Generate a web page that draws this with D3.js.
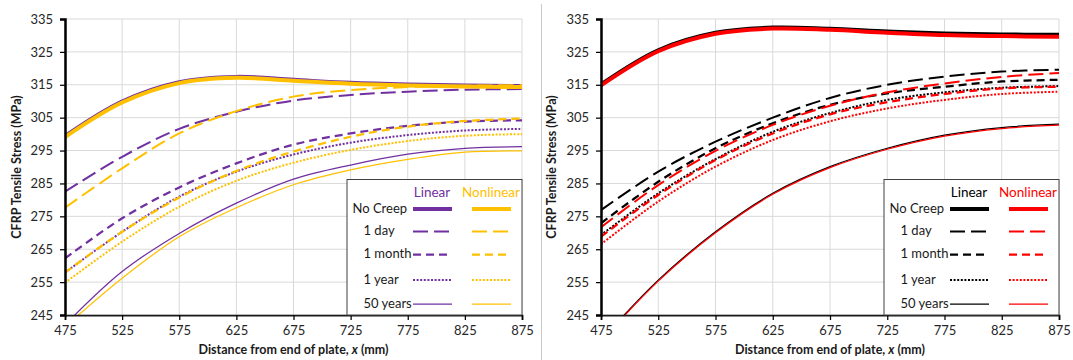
<!DOCTYPE html>
<html>
<head>
<meta charset="utf-8">
<script src="https://cdn.jsdelivr.net/npm/d3@7"></script>
<style>
  body { margin: 0; background: #fff; }
  svg { display: block; font-family: Lato, "Noto Sans", sans-serif; }
</style>
</head>
<body>
<svg id="chart" width="1073" height="360"></svg>
<script>
// Distance from end of plate (mm) at which stresses are sampled
const distance = [475, 525, 575, 625, 675, 725, 775, 825, 875];
const xTicks = [475, 525, 575, 625, 675, 725, 775, 825, 875];
const yTicks = [245, 255, 265, 275, 285, 295, 305, 315, 325, 335];
const creepLabels = ["No Creep", "1 day", "1 month", "1 year", "50 years"];

// Left panel: CFRP tensile stress (MPa)
const leftLinNoCreep  = [299.4, 309.9, 315.8, 317.4, 316.5, 315.6, 315.1, 314.8, 314.6];
const leftNonNoCreep  = [299.1, 309.6, 315.5, 317.1, 316.2, 315.3, 314.8, 314.5, 314.3];
const leftLin1Day     = [282.5, 293.1, 301.6, 306.8, 310.2, 311.9, 312.9, 313.5, 313.7];
const leftNon1Day     = [277.6, 289.6, 300.2, 307.0, 311.4, 313.4, 314.3, 314.7, 314.9];
const leftLin1Month   = [262.2, 274.4, 283.8, 291.1, 296.8, 300.2, 302.5, 303.8, 304.2];
const leftNon1Month   = [257.9, 270.3, 280.7, 288.8, 294.7, 299.2, 302.3, 304.0, 304.7];
const leftLin1Year    = [257.9, 270.3, 281.0, 288.6, 293.8, 297.4, 299.7, 301.1, 301.6];
const leftNon1Year    = [254.8, 267.3, 277.9, 285.8, 291.3, 295.2, 297.9, 299.5, 300.0];
const leftLin50Years  = [242.0, 258.2, 269.8, 279.0, 286.3, 290.6, 293.9, 295.7, 296.2];
const leftNon50Years  = [241.4, 256.2, 268.8, 277.6, 284.6, 289.1, 292.3, 294.5, 294.9];

// Right panel: CFRP tensile stress (MPa)
const rightLinNoCreep = [315.1, 325.5, 330.8, 332.4, 332.0, 331.2, 330.6, 330.3, 330.2];
const rightNonNoCreep = [314.8, 325.2, 330.5, 332.1, 331.7, 330.8, 330.1, 329.8, 329.6];
const rightLin1Day    = [276.9, 288.6, 297.7, 305.0, 311.0, 315.0, 317.5, 319.0, 319.6];
const rightNon1Day    = [271.7, 284.5, 294.9, 302.8, 308.6, 312.7, 315.4, 317.4, 318.6];
const rightLin1Month  = [272.9, 285.5, 295.7, 303.3, 308.9, 312.4, 314.4, 316.0, 316.5];
const rightNon1Month  = [268.8, 281.5, 292.1, 300.2, 306.0, 309.7, 312.2, 313.9, 314.4];
const rightLin1Year   = [269.3, 282.0, 292.4, 300.7, 306.4, 310.4, 312.7, 314.1, 314.6];
const rightNon1Year   = [266.5, 279.5, 290.1, 298.2, 303.9, 307.8, 310.4, 312.2, 312.9];
const rightLin50Years = [237.3, 255.6, 270.3, 282.0, 290.1, 295.7, 299.7, 302.0, 303.0];
const rightNon50Years = [237.0, 255.3, 270.0, 281.7, 289.8, 295.4, 299.4, 301.7, 302.7];

// Line style for each creep duration
const widths = [4, 2, 2.25, 2, 1.25];
const dashes = [null, "15,6", "8,5", "2,1.6", null];

const panels = [
  {
    id: "left", x0: 65, x1: 522, titleX: 18,
    linColor: "#7030A0", nonColor: "#FFC000",
    lin: [leftLinNoCreep, leftLin1Day, leftLin1Month, leftLin1Year, leftLin50Years],
    non: [leftNonNoCreep, leftNon1Day, leftNon1Month, leftNon1Year, leftNon50Years]
  },
  {
    id: "right", x0: 601, x1: 1059, titleX: 553,
    linColor: "#000000", nonColor: "#FF0000",
    lin: [rightLinNoCreep, rightLin1Day, rightLin1Month, rightLin1Year, rightLin50Years],
    non: [rightNonNoCreep, rightNon1Day, rightNon1Month, rightNon1Year, rightNon50Years]
  }
];

const svg = d3.select("#chart");
svg.append("rect").attr("width", 1073).attr("height", 360).attr("fill", "#fff");

// divider between the two charts
svg.append("line")
  .attr("x1", 541.5).attr("x2", 541.5).attr("y1", 4).attr("y2", 360)
  .attr("stroke", "#c8c8c8").attr("stroke-width", 1);

const yTop = 19, yBottom = 315;

panels.forEach(p => {
  const x = d3.scaleLinear().domain([475, 875]).range([p.x0, p.x1]);
  const y = d3.scaleLinear().domain([245, 335]).range([yBottom, yTop]);
  const g = svg.append("g");

  // gridlines
  g.append("g").selectAll("line").data(yTicks).join("line")
    .attr("x1", p.x0).attr("x2", p.x1)
    .attr("y1", d => y(d)).attr("y2", d => y(d))
    .attr("stroke", "#d9d9d9").attr("stroke-width", 1);
  g.append("g").selectAll("line").data(xTicks).join("line")
    .attr("x1", d => x(d)).attr("x2", d => x(d))
    .attr("y1", yTop).attr("y2", yBottom)
    .attr("stroke", "#d9d9d9").attr("stroke-width", 1);

  // clipped series
  const clipId = "clip-" + p.id;
  svg.append("clipPath").attr("id", clipId).append("rect")
    .attr("x", p.x0).attr("y", yTop - 3).attr("width", p.x1 - p.x0 + 3).attr("height", yBottom - yTop + 3);
  const series = g.append("g").attr("clip-path", `url(#${clipId})`);
  const line = d3.line()
    .x((d, i) => x(distance[i]))
    .y(d => y(d))
    .curve(d3.curveCatmullRom.alpha(0.5));

  const drawSet = (sets, color) => {
    sets.forEach((vals, k) => {
      series.append("path")
        .datum(vals)
        .attr("d", line)
        .attr("fill", "none")
        .attr("stroke", color)
        .attr("stroke-width", widths[k])
        .attr("stroke-dasharray", dashes[k])
        .attr("stroke-linejoin", "round");
    });
  };
  drawSet(p.lin, p.linColor);
  drawSet(p.non, p.nonColor);

  // axes
  const yAxis = g.append("g").attr("transform", `translate(${p.x0},0)`)
    .call(d3.axisLeft(y).tickValues(yTicks).tickSize(5).tickPadding(7).tickFormat(d3.format("d")));
  const xAxis = g.append("g").attr("transform", `translate(0,${yBottom})`)
    .call(d3.axisBottom(x).tickValues(xTicks).tickSize(5).tickPadding(6).tickFormat(d3.format("d")));
  [yAxis, xAxis].forEach(a => {
    a.selectAll("text").attr("font-size", 13).attr("fill", "#262626").attr("font-family", "Lato, sans-serif");
    a.selectAll(".tick line").attr("stroke", "#000").attr("stroke-width", 1.25);
  });
  yAxis.select(".domain").attr("stroke", "#000").attr("stroke-width", 2.5);
  xAxis.select(".domain").attr("stroke", "#1a1a1a").attr("stroke-width", 1.75);

  // axis titles
  g.append("text")
    .attr("transform", `translate(${p.titleX},167) rotate(-90)`)
    .attr("text-anchor", "middle").attr("dominant-baseline", "middle")
    .attr("font-size", 12.5).attr("font-weight", "bold").attr("fill", "#1a1a1a")
    .text("CFRP Tensile Stress (MPa)");
  const xt = g.append("text")
    .attr("x", (p.x0 + p.x1) / 2).attr("y", 354)
    .attr("text-anchor", "middle")
    .attr("font-size", 12.5).attr("font-weight", "bold").attr("fill", "#1a1a1a");
  xt.append("tspan").text("Distance from end of plate, ");
  xt.append("tspan").attr("font-style", "italic").text("x");
  xt.append("tspan").text(" (mm)");

  // legend
  const bx = p.x1 - 175, by = 179.5;
  const lg = g.append("g");
  lg.append("rect").attr("x", bx).attr("y", by).attr("width", 175).attr("height", yBottom - by)
    .attr("fill", "#fff").attr("stroke", "#404040").attr("stroke-width", 1);
  lg.append("text").attr("x", bx + 85).attr("y", 194).attr("text-anchor", "middle")
    .attr("dominant-baseline", "middle").attr("font-size", 13.5).attr("fill", p.linColor).text("Linear");
  lg.append("text").attr("x", bx + 144).attr("y", 194).attr("text-anchor", "middle")
    .attr("dominant-baseline", "middle").attr("font-size", 13.5).attr("fill", p.nonColor).text("Nonlinear");
  const rowY = [209, 231.5, 254.5, 280, 304];
  creepLabels.forEach((lab, k) => {
    lg.append("text").attr("x", bx + (k === 0 ? 5.5 : 16.5)).attr("y", rowY[k] + 0.5)
      .attr("dominant-baseline", "middle").attr("font-size", 13).attr("fill", "#1a1a1a").text(lab);
    [[66, p.linColor], [125, p.nonColor]].forEach(([off, col]) => {
      lg.append("line")
        .attr("x1", bx + off).attr("x2", bx + off + 39)
        .attr("y1", rowY[k]).attr("y2", rowY[k])
        .attr("stroke", col).attr("stroke-width", widths[k])
        .attr("stroke-dasharray", dashes[k]);
    });
  });
});
</script>
</body>
</html>
